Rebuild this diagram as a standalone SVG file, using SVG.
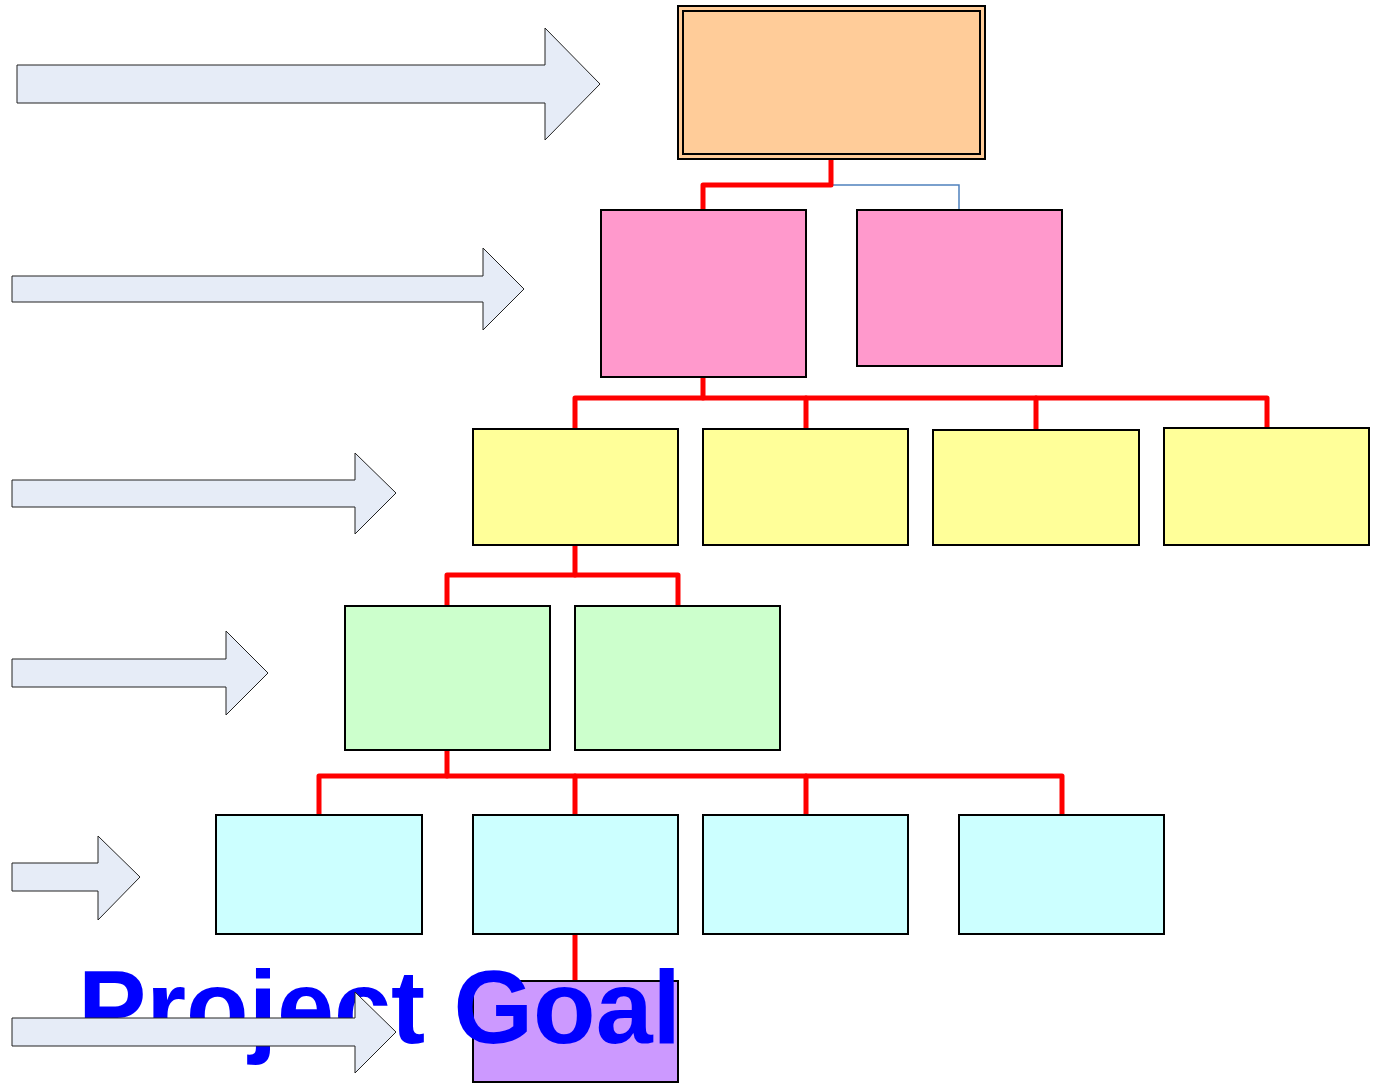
<svg xmlns="http://www.w3.org/2000/svg" width="1374" height="1084" viewBox="0 0 1374 1084">
  <style>
    .box { stroke: #000; stroke-width: 2; }
    .arrow { fill: #E6ECF7; stroke: #222; stroke-width: 1; stroke-linejoin: miter; }
    .link { fill: none; stroke: #FF0000; stroke-width: 5; stroke-linecap: round; stroke-linejoin: round; }
    .thin { fill: none; stroke: #4F81BD; stroke-width: 1.5; }
    .goal { font-family: "Liberation Sans", Arial, sans-serif; font-weight: bold; font-size: 103px; fill: #0000FF; }
  </style>
  <rect width="1374" height="1084" fill="#FFFFFF"/>

  <!-- level arrows -->
  <g id="level-arrows">
    <polygon class="arrow" points="17,65 545,65 545,28 600,84 545,140 545,103 17,103"/>
    <polygon class="arrow" points="12,276 483,276 483,248 524,289 483,330 483,302 12,302"/>
    <polygon class="arrow" points="12,480 355,480 355,453 396,493 355,534 355,507 12,507"/>
    <polygon class="arrow" points="12,659 226,659 226,631 268,673 226,715 226,687 12,687"/>
    <polygon class="arrow" points="12,863 98,863 98,836 140,877 98,920 98,891 12,891"/>
  </g>

  <!-- connectors -->
  <g id="connectors">
    <polyline class="thin" points="831,185 959,185 959,210"/>
    <polyline class="link" points="831,159 831,185 703,185 703,210"/>
    <polyline class="link" points="703,377 703,398"/>
    <polyline class="link" points="575,429 575,398 1267,398 1267,428"/>
    <line class="link" x1="806" y1="398" x2="806" y2="429"/>
    <line class="link" x1="1036" y1="398" x2="1036" y2="430"/>
    <polyline class="link" points="575,545 575,575"/>
    <polyline class="link" points="447,606 447,575 678,575 678,606"/>
    <polyline class="link" points="447,750 447,776"/>
    <polyline class="link" points="319,815 319,776 1062,776 1062,815"/>
    <line class="link" x1="575" y1="776" x2="575" y2="815"/>
    <line class="link" x1="806" y1="776" x2="806" y2="815"/>
    <line class="link" x1="575" y1="934" x2="575" y2="981"/>
  </g>

  <!-- top node -->
  <g id="node-top">
    <rect x="678" y="6" width="307" height="153" fill="#FFCC99" stroke="#000" stroke-width="2"/>
    <rect x="683" y="11" width="297" height="143" fill="none" stroke="#000" stroke-width="2"/>
  </g>

  <!-- second level -->
  <g id="node-2a"><rect class="box" x="601" y="210" width="205" height="167" fill="#FF99CC"/></g>
  <g id="node-2b"><rect class="box" x="857" y="210" width="205" height="156" fill="#FF99CC"/></g>

  <!-- third level -->
  <g id="node-3a"><rect class="box" x="473" y="429" width="205" height="116" fill="#FFFF99"/></g>
  <g id="node-3b"><rect class="box" x="703" y="429" width="205" height="116" fill="#FFFF99"/></g>
  <g id="node-3c"><rect class="box" x="933" y="430" width="206" height="115" fill="#FFFF99"/></g>
  <g id="node-3d"><rect class="box" x="1164" y="428" width="205" height="117" fill="#FFFF99"/></g>

  <!-- fourth level -->
  <g id="node-4a"><rect class="box" x="345" y="606" width="205" height="144" fill="#CCFFCC"/></g>
  <g id="node-4b"><rect class="box" x="575" y="606" width="205" height="144" fill="#CCFFCC"/></g>

  <!-- fifth level -->
  <g id="node-5a"><rect class="box" x="216" y="815" width="206" height="119" fill="#CCFFFF"/></g>
  <g id="node-5b"><rect class="box" x="473" y="815" width="205" height="119" fill="#CCFFFF"/></g>
  <g id="node-5c"><rect class="box" x="703" y="815" width="205" height="119" fill="#CCFFFF"/></g>
  <g id="node-5d"><rect class="box" x="959" y="815" width="205" height="119" fill="#CCFFFF"/></g>

  <!-- goal node -->
  <g id="node-goal"><rect class="box" x="473" y="981" width="205" height="101" fill="#CC99FF"/></g>

  <text class="goal" x="78" y="1043" textLength="603" lengthAdjust="spacingAndGlyphs">Project Goal</text>

  <g id="goal-arrow">
    <polygon class="arrow" points="12,1018 355,1018 355,992 396,1032 355,1073 355,1046 12,1046"/>
  </g>
</svg>
